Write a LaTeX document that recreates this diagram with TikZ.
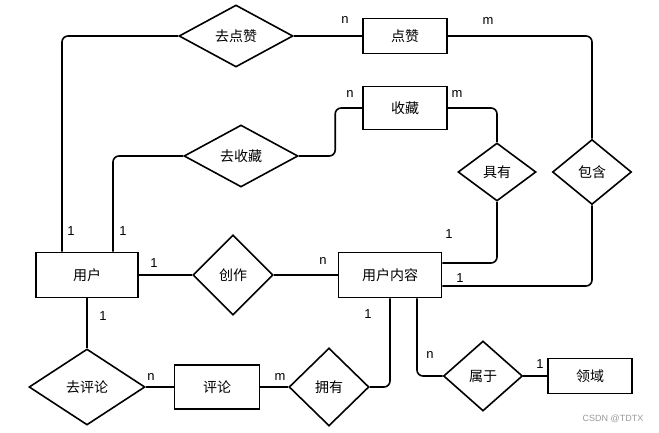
\documentclass[tikz,border=0pt]{standalone}
\usepackage{fontspec}
\setmainfont{Liberation Sans}
\newfontfamily\cjk{Noto Sans CJK SC}
\usetikzlibrary{shapes.geometric}
\usetikzlibrary{calc}

\begin{document}
\begin{tikzpicture}[x=1pt,y=-1pt,line width=1.6pt,
    entity/.style={draw,rectangle,inner sep=0pt,font=\cjk\fontsize{14}{16}\selectfont},
    relation/.style={draw,diamond,inner sep=0pt,aspect=1,font=\cjk\fontsize{14}{16}\selectfont},
    card/.style={font=\fontsize{13}{15}\selectfont}]
    \useasboundingbox (0,0) rectangle (659,433);

    % entities
    \node[entity,minimum width=102pt,minimum height=45pt] (user) at (87,275) {用户};
    \node[entity,minimum width=103pt,minimum height=45pt] (content) at (390,275) {用户内容};
    \node[entity,minimum width=84pt,minimum height=35pt] (like) at (405,36) {点赞};
    \node[entity,minimum width=84pt,minimum height=43pt] (collect) at (405,108) {收藏};
    \node[entity,minimum width=85pt,minimum height=44pt] (comment) at (217,387) {评论};
    \node[entity,minimum width=84pt,minimum height=35pt] (field) at (590,376) {领域};

    % relations
    \node[relation,minimum width=114pt,minimum height=62pt] (likeRel) at (236,36) {去点赞};
    \node[relation,minimum width=114pt,minimum height=62pt] (collectRel) at (241,156) {去收藏};
    \node[relation,minimum width=78pt,minimum height=58pt] (has) at (497,172) {具有};
    \node[relation,minimum width=79pt,minimum height=65pt] (contains) at (592,172) {包含};
    \node[relation,minimum width=80pt,minimum height=80pt] (create) at (233,275) {创作};
    \node[relation,minimum width=116pt,minimum height=76pt] (commentRel) at (87,387) {去评论};
    \node[relation,minimum width=80pt,minimum height=78pt] (own) at (329,387) {拥有};
    \node[relation,minimum width=79pt,minimum height=70pt] (belong) at (483,376) {属于};

    % connectors
    \draw[rounded corners=6pt] ([xshift=-25pt]user.north) |- (likeRel.west);
    \draw (likeRel.east) -- (like.west);
    \draw[rounded corners=6pt] (like.east) -| (contains.north);
    \draw[rounded corners=6pt] ([xshift=26pt]user.north) |- (collectRel.west);
    \draw[rounded corners=6pt] (collectRel.east) -| ($(collect.west)+(-27,0)$) -- (collect.west);
    \draw[rounded corners=6pt] (collect.east) -| (has.north);
    \draw[rounded corners=6pt] (has.south) |- ([yshift=12pt]content.east);
    \draw[rounded corners=6pt] (contains.south) |- ([yshift=-11pt]content.east);
    \draw (user.east) -- (create.west);
    \draw (create.east) -- (content.west);
    \draw (user.south) -- (commentRel.north);
    \draw (commentRel.east) -- (comment.west);
    \draw (comment.east) -- (own.west);
    \draw[rounded corners=6pt] (own.east) -| (content.south);
    \draw[rounded corners=6pt] ([xshift=27pt]content.south) |- (belong.west);
    \draw (belong.east) -- (field.west);

    % cardinalities
    \node[card] (c1) at (345,20) {n};
    \node[card] (c2) at (488,21) {m};
    \node[card] (c3) at (350,94) {n};
    \node[card] (c4) at (457,94) {m};
    \node[card] (c5) at (71,231) {1};
    \node[card] (c6) at (123,231) {1};
    \node[card] (c7) at (154,263) {1};
    \node[card] (c8) at (323,261) {n};
    \node[card] (c9) at (449,234) {1};
    \node[card] (c10) at (460,278) {1};
    \node[card] (c11) at (103,316) {1};
    \node[card] (c12) at (368,314) {1};
    \node[card] (c13) at (430,355) {n};
    \node[card] (c14) at (540,364) {1};
    \node[card] (c15) at (151,377) {n};
    \node[card] (c16) at (280,377) {m};

    \node[text=black!40,font=\fontsize{9}{11}\selectfont] (mark) at (613,419) {CSDN @TDTX};
\end{tikzpicture}
\end{document}
